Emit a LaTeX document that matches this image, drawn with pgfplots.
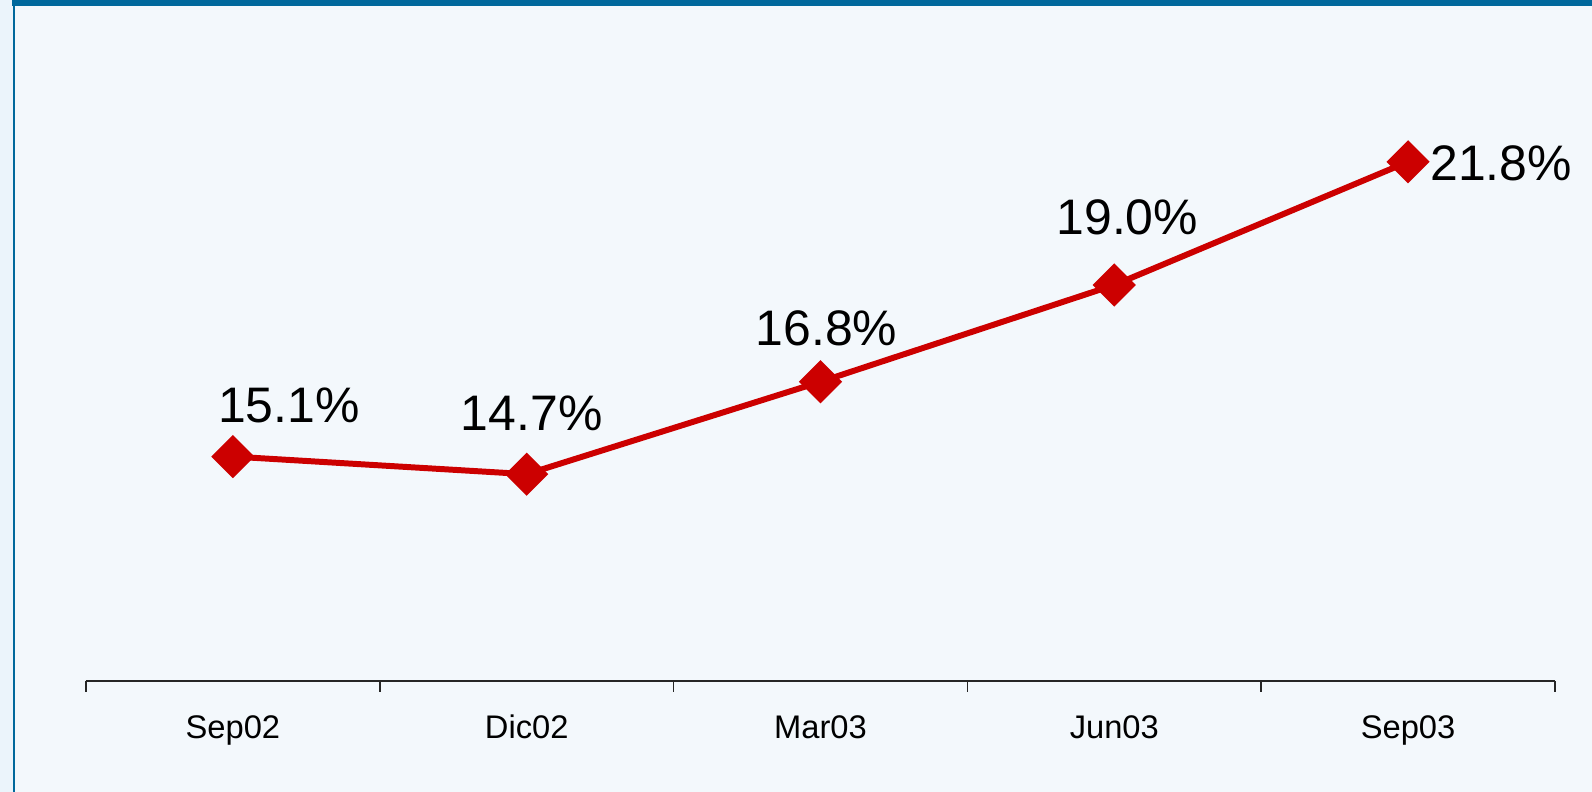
\documentclass[border=0pt]{standalone}
\usepackage{fontspec}
\setmainfont{Liberation Sans}
\usepackage{pgfplots}
\usepackage{pgfplotstable}
\pgfplotsset{compat=1.18}

\definecolor{bgpanel}{HTML}{F3F8FC}
\definecolor{bgstrip}{HTML}{EBF4FB}
\definecolor{framebl}{HTML}{00689C}
\definecolor{linered}{HTML}{CC0000}

% x = category index, dx/dy = label offset in cm
\pgfplotstableread{
x y dx dy
1 15.1 0.56 0.51
2 14.7 0.05 0.61
3 16.8 0.06 0.53
4 19.0 0.13 0.68
5 21.8 0.93 -0.02
}\rates

\begin{document}
\begin{tikzpicture}[x=1cm,y=1cm]
% panel background and frame
\fill[bgstrip] (0,0) rectangle (15.92,7.92);
\fill[bgpanel] (0.14,0) rectangle (15.92,7.86);
\fill[framebl] (0.13,0) rectangle (0.15,7.92);
\fill[framebl] (0.12,7.86) rectangle (15.92,7.92);

\begin{axis}[
  at={(0.86cm,1.11cm)}, anchor=origin,
  scale only axis, width=14.69cm, height=6.60cm,
  xmin=0.5, xmax=5.5, ymin=10, ymax=25,
  axis x line*=bottom, axis y line=none,
  x axis line style={black!85, line width=0.5pt},
  xtick={1,...,5},
  xticklabels={Sep02,Dic02,Mar03,Jun03,Sep03},
  major tick length=0pt,
  minor xtick={0.5,1.5,...,5.5},
  minor tick length=0.11cm,
  xtick align=outside,
  minor tick style={black!85, line width=0.5pt},
  xticklabel style={font=\fontsize{9.3}{10}\selectfont, anchor=base, yshift=-0.575cm},
  clip=false,
]
\addplot[linered, line width=1.7pt,
  mark=square*, mark size=3.5pt, mark options={rotate=45, solid, fill=linered},
  visualization depends on={\thisrow{dx}\as\dx},
  visualization depends on={\thisrow{dy}\as\dy},
  nodes near coords={\pgfmathprintnumber{\pgfplotspointmeta}\%},
  every node near coord/.append style={black, anchor=center,
    font=\fontsize{14.2}{16}\selectfont,
    xshift=\dx cm, yshift=\dy cm,
    /pgf/number format/.cd, fixed, fixed zerofill, precision=1, assume math mode=true},
  point meta=y,
] table[x=x, y=y] {\rates};
\end{axis}
\end{tikzpicture}
\end{document}
